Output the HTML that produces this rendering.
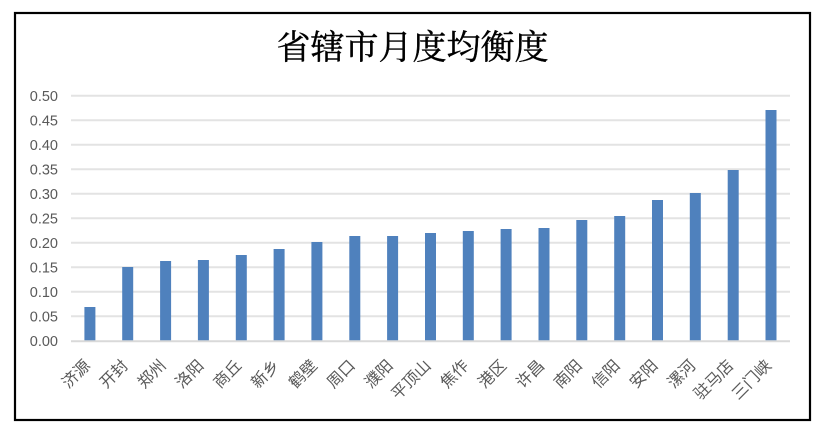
<!DOCTYPE html>
<html>
<head>
<meta charset="utf-8">
<style>
  html, body { margin: 0; padding: 0; background: #ffffff; }
  body { width: 827px; height: 433px; overflow: hidden; }
  svg { display: block; }
  .yl { font-family: "Liberation Sans", "Noto Sans CJK SC", sans-serif; font-size: 14.5px; fill: #595959; }
  .xl { font-family: "Liberation Sans", "Noto Sans CJK SC", sans-serif; font-size: 16px; fill: #595959; }
  .title { font-family: "Liberation Serif", "Noto Serif CJK SC", serif; font-size: 34px; fill: #000000; stroke: #000000; stroke-width: 0.4px; }
</style>
</head>
<body>
<svg width="827" height="433" viewBox="0 0 827 433" xmlns="http://www.w3.org/2000/svg">
  <rect x="0" y="0" width="827" height="433" fill="#ffffff"/>
  <rect x="15" y="13" width="795" height="407" fill="#ffffff" stroke="#000000" stroke-width="2.2"/>

  <text class="title" x="412.5" y="59" text-anchor="middle">省辖市月度均衡度</text>

  <!-- gridlines -->
  <g stroke="#e3e3e3" stroke-width="2">
    <line x1="71" y1="95.8" x2="790" y2="95.8"/>
    <line x1="71" y1="120.3" x2="790" y2="120.3"/>
    <line x1="71" y1="144.8" x2="790" y2="144.8"/>
    <line x1="71" y1="169.3" x2="790" y2="169.3"/>
    <line x1="71" y1="193.8" x2="790" y2="193.8"/>
    <line x1="71" y1="218.3" x2="790" y2="218.3"/>
    <line x1="71" y1="242.8" x2="790" y2="242.8"/>
    <line x1="71" y1="267.3" x2="790" y2="267.3"/>
    <line x1="71" y1="291.8" x2="790" y2="291.8"/>
    <line x1="71" y1="316.3" x2="790" y2="316.3"/>
  </g>

  <!-- y labels -->
  <g class="yl" text-anchor="end">
    <text x="58" y="101">0.50</text>
    <text x="58" y="125.5">0.45</text>
    <text x="58" y="150">0.40</text>
    <text x="58" y="174.5">0.35</text>
    <text x="58" y="199">0.30</text>
    <text x="58" y="223.5">0.25</text>
    <text x="58" y="248">0.20</text>
    <text x="58" y="272.5">0.15</text>
    <text x="58" y="297">0.10</text>
    <text x="58" y="321.5">0.05</text>
    <text x="58" y="346">0.00</text>
  </g>

  <!-- bars -->
  <g fill="#4f81bd">
    <rect x="84.4" y="307" width="11" height="34"/>
    <rect x="122.2" y="267" width="11" height="74"/>
    <rect x="160.1" y="261" width="11" height="80"/>
    <rect x="197.9" y="260" width="11" height="81"/>
    <rect x="235.8" y="255" width="11" height="86"/>
    <rect x="273.6" y="249" width="11" height="92"/>
    <rect x="311.4" y="242" width="11" height="99"/>
    <rect x="349.3" y="236" width="11" height="105"/>
    <rect x="387.1" y="236" width="11" height="105"/>
    <rect x="425.0" y="233" width="11" height="108"/>
    <rect x="462.8" y="231" width="11" height="110"/>
    <rect x="500.6" y="229" width="11" height="112"/>
    <rect x="538.5" y="228" width="11" height="113"/>
    <rect x="576.3" y="220" width="11" height="121"/>
    <rect x="614.2" y="216" width="11" height="125"/>
    <rect x="652.0" y="200" width="11" height="141"/>
    <rect x="689.8" y="193" width="11" height="148"/>
    <rect x="727.7" y="170" width="11" height="171"/>
    <rect x="765.5" y="110" width="11" height="231"/>
  </g>

  <!-- axis line -->
  <line x1="71" y1="341.3" x2="790" y2="341.3" stroke="#d9d9d9" stroke-width="2"/>

  <!-- x labels -->
  <g class="xl" text-anchor="end">
    <text transform="translate(91.2,366.5) rotate(-45)">济源</text>
    <text transform="translate(129.0,366.5) rotate(-45)">开封</text>
    <text transform="translate(166.9,366.5) rotate(-45)">郑州</text>
    <text transform="translate(204.7,366.5) rotate(-45)">洛阳</text>
    <text transform="translate(242.6,366.5) rotate(-45)">商丘</text>
    <text transform="translate(280.4,366.5) rotate(-45)">新乡</text>
    <text transform="translate(318.2,366.5) rotate(-45)">鹤壁</text>
    <text transform="translate(356.1,366.5) rotate(-45)">周口</text>
    <text transform="translate(393.9,366.5) rotate(-45)">濮阳</text>
    <text transform="translate(431.8,366.5) rotate(-45)">平顶山</text>
    <text transform="translate(469.6,366.5) rotate(-45)">焦作</text>
    <text transform="translate(507.4,366.5) rotate(-45)">港区</text>
    <text transform="translate(545.3,366.5) rotate(-45)">许昌</text>
    <text transform="translate(583.1,366.5) rotate(-45)">南阳</text>
    <text transform="translate(621.0,366.5) rotate(-45)">信阳</text>
    <text transform="translate(658.8,366.5) rotate(-45)">安阳</text>
    <text transform="translate(696.6,366.5) rotate(-45)">漯河</text>
    <text transform="translate(734.5,366.5) rotate(-45)">驻马店</text>
    <text transform="translate(772.3,366.5) rotate(-45)">三门峡</text>
  </g>
</svg>
</body>
</html>
